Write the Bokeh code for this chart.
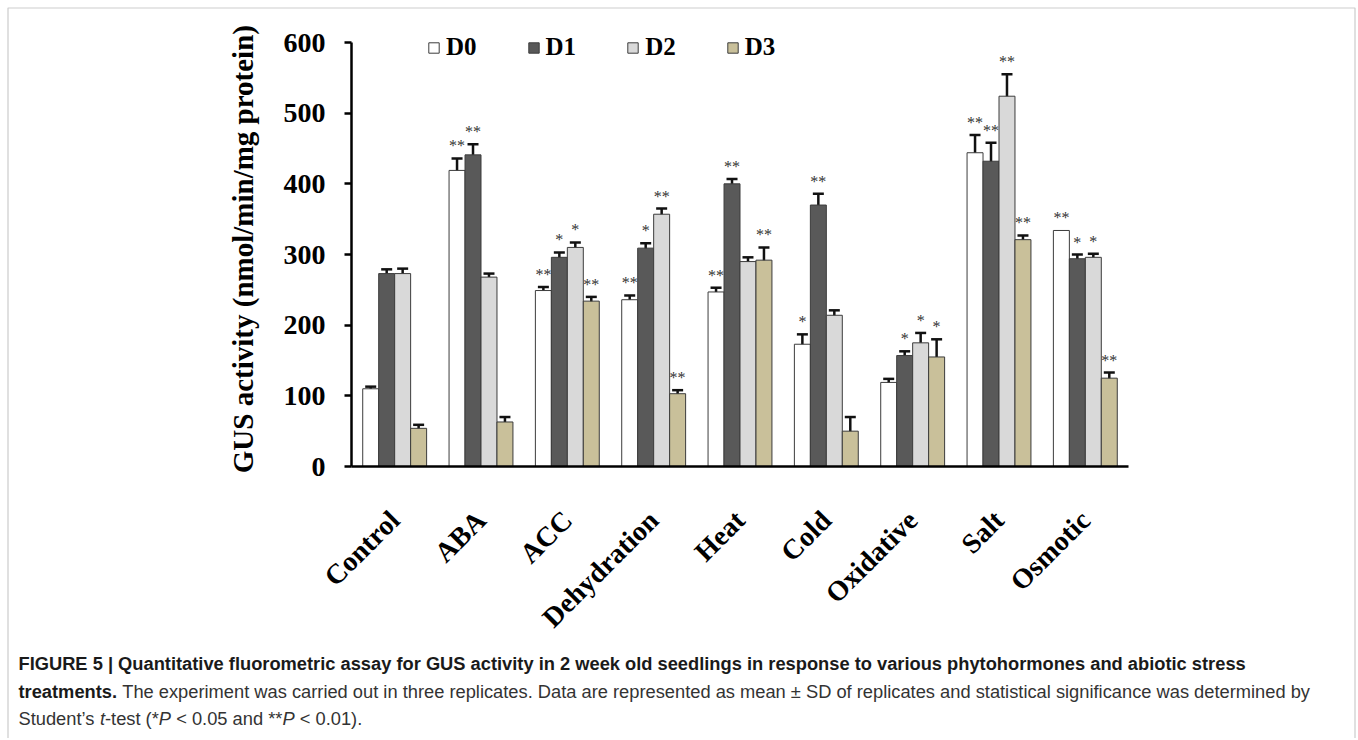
import math
from bokeh.plotting import figure
from bokeh.models import (ColumnDataSource, Whisker, TeeHead, Legend, LegendItem,
                          Label, Range1d, FixedTicker, BoxAnnotation)
from bokeh.core.properties import value
from bokeh.embed import file_html
from bokeh.resources import INLINE

# ---------------- data ----------------
categories = ["Control", "ABA", "ACC", "Dehydration", "Heat", "Cold",
              "Oxidative", "Salt", "Osmotic"]
series = ["D0", "D1", "D2", "D3"]
d0 = [110, 419, 249, 236, 247, 173, 119, 444, 334]
d0_err = [3, 17, 5, 6, 6, 14, 5, 25, 0]
d1 = [273, 441, 296, 309, 400, 370, 157, 432, 294]
d1_err = [6, 15, 7, 7, 7, 16, 6, 26, 6]
d2 = [273, 268, 310, 357, 290, 214, 175, 524, 296]
d2_err = [7, 5, 7, 8, 6, 7, 14, 31, 5]
d3 = [54, 63, 234, 103, 292, 50, 155, 321, 125]
d3_err = [5, 7, 6, 5, 18, 20, 25, 6, 8]
sig_d0 = ["", "**", "**", "**", "**", "*", "", "**", "**"]
sig_d1 = ["", "**", "*", "*", "**", "**", "*", "**", "*"]
sig_d2 = ["", "", "*", "**", "", "", "*", "**", "*"]
sig_d3 = ["", "", "**", "**", "**", "", "*", "**", "**"]
y_ticks = [0, 100, 200, 300, 400, 500, 600]
y_label = "GUS  activity (nmol/min/mg protein)"

caption_line1 = ("FIGURE 5 | Quantitative fluorometric assay for GUS activity in 2 week old "
                 "seedlings in response to various phytohormones and abiotic stress")
caption_line2_bold = "treatments."
caption_line2 = ("The experiment was carried out in three replicates. Data are represented as "
                 "mean \u00b1 SD of replicates and statistical significance was determined by")

values = [d0, d1, d2, d3]
errors = [d0_err, d1_err, d2_err, d3_err]
sigs = [sig_d0, sig_d1, sig_d2, sig_d3]
fills = ["#ffffff", "#595959", "#d9d9d9", "#c9c09a"]

# ---------------- layout (page pixels; the plot frame covers the whole canvas) ----------------
W, H = 1356, 738
AX_L, AX_R, AX_T, AX_B = 351, 1128, 42, 466    # where the axes sit on the page
NCAT = len(categories)
GW = (AX_R - AX_L) / NCAT                       # px per category
PX_PER_UNIT = (AX_B - AX_T) / 600.0
XC0 = AX_L + GW / 2                             # page x of the first category centre

def dx(x_abs):
    return (x_abs - XC0) / GW
def dy(y_abs):
    return (AX_B - y_abs) / PX_PER_UNIT

p = figure(width=W, height=H, output_backend="svg", toolbar_location=None,
           x_range=Range1d(dx(0), dx(W)), y_range=Range1d(dy(H), dy(0)),
           min_border=0, min_border_left=0, min_border_right=0,
           min_border_top=0, min_border_bottom=0)
p.xgrid.grid_line_color = None
p.ygrid.grid_line_color = None
p.outline_line_color = None

# outer box of the figure panel
p.add_layout(BoxAnnotation(left=dx(7.5), right=dx(1354.5), top=dy(7.5), bottom=dy(800),
                           fill_alpha=0, fill_color=None, line_color="#555555",
                           line_width=1.2))

xs = list(range(NCAT))
bw = 0.185
offsets = [-1.5 * bw, -0.5 * bw, 0.5 * bw, 1.5 * bw]
renderers = []
for k in range(4):
    bx = [x + offsets[k] for x in xs]
    src = ColumnDataSource(dict(x=bx, top=values[k]))
    r = p.vbar(x="x", top="top", bottom=0, width=bw, source=src,
               fill_color=fills[k], line_color="#3c3c3c", line_width=1)
    renderers.append(r)
    ex = [x for x, e in zip(bx, errors[k]) if e > 0]
    up = [v + e for v, e in zip(values[k], errors[k]) if e > 0]
    lo = [v - e for v, e in zip(values[k], errors[k]) if e > 0]
    esrc = ColumnDataSource(dict(x=ex, upper=up, lower=lo))
    p.add_layout(Whisker(source=esrc, base="x", upper="upper", lower="lower",
                         line_color="#111111", line_width=2.5,
                         upper_head=TeeHead(size=11, line_width=2.5, line_color="#111111"),
                         lower_head=TeeHead(size=11, line_width=2.5, line_color="#111111")))
    ssrc = ColumnDataSource(dict(x=bx, y=[v + e for v, e in zip(values[k], errors[k])],
                                 t=sigs[k]))
    p.text(x="x", y="y", text="t", source=ssrc,
           text_align="center", text_baseline="bottom", y_offset=-4,
           text_font=value("Liberation Serif"), text_font_size="16px",
           text_color="#333333")

# ---------------- axes (fixed inside the frame) ----------------
p.yaxis.fixed_location = -0.5
p.yaxis.bounds = (0, 600)
p.yaxis.ticker = FixedTicker(ticks=y_ticks)
p.yaxis.minor_tick_line_color = None
p.yaxis.major_tick_out = 7
p.yaxis.major_tick_in = 0
p.yaxis.major_tick_line_width = 2.5
p.yaxis.axis_line_width = 2.5
p.yaxis.axis_line_color = "#000000"
p.yaxis.major_tick_line_color = "#000000"
p.yaxis.major_label_standoff = 19
p.yaxis.major_label_text_font = "Liberation Serif"
p.yaxis.major_label_text_font_style = "bold"
p.yaxis.major_label_text_font_size = "28px"
p.yaxis.major_label_text_color = "#000000"

p.xaxis.fixed_location = 0
p.xaxis.bounds = (-0.5, NCAT - 0.5)
p.xaxis.ticker = FixedTicker(ticks=xs)
p.xaxis.major_label_overrides = {i: c for i, c in zip(xs, categories)}
p.xaxis.axis_line_width = 2.5
p.xaxis.axis_line_color = "#000000"
p.xaxis.major_tick_line_color = None
p.xaxis.minor_tick_line_color = None
p.xaxis.major_label_orientation = math.pi / 4
p.xaxis.major_label_standoff = 43
p.xaxis.major_label_text_font = "Liberation Serif"
p.xaxis.major_label_text_font_style = "bold"
p.xaxis.major_label_text_font_size = "28px"
p.xaxis.major_label_text_color = "#000000"

p.add_layout(Label(x=dx(242), y=dy(245), text=y_label, angle=math.pi / 2,
                   text_align="center", text_baseline="middle",
                   text_font="Liberation Serif", text_font_style="bold",
                   text_font_size="29px", text_color="#000000"))

# ---------------- legend ----------------
legend = Legend(items=[LegendItem(label=s, renderers=[r]) for s, r in zip(series, renderers)],
                orientation="horizontal", location=(427, H - 47 - 15),
                glyph_width=13, glyph_height=13, label_standoff=6, spacing=50,
                label_height=30, padding=0, margin=0,
                border_line_color=None, background_fill_alpha=0,
                label_text_font="Liberation Serif", label_text_font_style="bold",
                label_text_font_size="25px", label_text_color="#000000",
                label_text_baseline="middle")
p.add_layout(legend, "center")

# ---------------- caption ----------------
FS = 18.3

def seg(text, x_abs, y_abs, style="normal", color="#333333"):
    p.add_layout(Label(x=dx(x_abs), y=dy(y_abs), text=text,
                       text_font="Liberation Sans", text_font_size=f"{FS}px",
                       text_font_style=style, text_color=color,
                       text_baseline="alphabetic", text_align="left"))

X0 = 18
L1, L2, L3 = 663, 691, 718
seg(caption_line1, X0, L1, "bold", "#1a1a1a")
seg(caption_line2_bold, X0, L2, "bold", "#1a1a1a")
seg(caption_line2, X0 + 5668 * FS / 1000, L2)
# line 3, offsets from Arial/Liberation Sans advance widths (units per 1000 em)
seg("Student\u2019s", X0, L3)
seg("t", X0 + 4447 * FS / 1000, L3, "italic")
seg("-test (*", X0 + 4725 * FS / 1000, L3)
seg("P", X0 + 7670 * FS / 1000, L3, "italic")
seg("< 0.05 and **", X0 + 8615 * FS / 1000, L3)
seg("P", X0 + 14425 * FS / 1000, L3, "italic")
seg("< 0.01).", X0 + 15370 * FS / 1000, L3)

open("out.html", "w").write(file_html(p, INLINE))
